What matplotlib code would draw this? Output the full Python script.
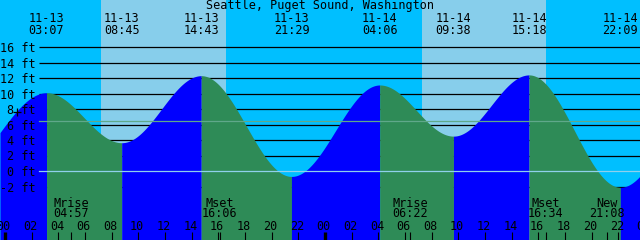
import matplotlib
matplotlib.use("Agg")
import matplotlib.pyplot as plt
import numpy as np

# ---------------- data ----------------
title = "Seattle, Puget Sound, Washington"
tide_dates = ["11-13", "11-13", "11-13", "11-13", "11-14", "11-14", "11-14", "11-14"]
tide_times = ["03:07", "08:45", "14:43", "21:29", "04:06", "09:38", "15:18", "22:09"]
tide_heights = [10.1, 3.65, 12.3, -0.7, 11.1, 4.5, 12.4, -2.1]
# estimated extrema just outside the visible window
outer_dates = ["11-12", "11-15"]
outer_times = ["20:00", "05:00"]
outer_heights = [-0.5, 11.0]

sunrise_dates = ["11-13", "11-14"]
sunrise_times = ["07:12", "07:15"]
sunset_dates = ["11-13", "11-14"]
sunset_times = ["16:35", "16:35"]

moon_names = ["Mrise", "Mset", "Mrise", "Mset", "New"]
moon_dates = ["11-13", "11-13", "11-14", "11-14", "11-14"]
moon_times = ["04:57", "16:06", "06:22", "16:34", "21:08"]

level_values = [16, 14, 12, 10, 8, 6, 4, 2, 0, -2]
level_labels = ["16 ft", "14 ft", "12 ft", "10 ft", "8 ft", "6 ft", "4 ft", "2 ft", "0 ft", "-2 ft"]
mean_level = 6.5
hour_values = [0, 2, 4, 6, 8, 10, 12, 14, 16, 18, 20, 22]
hour_labels = ["00", "02", "04", "06", "08", "10", "12", "14", "16", "18", "20", "22"]
day_starts = [0, 24, 48]

# ---------------- helpers ----------------
W, H = 640, 240
PX_PER_HR = 320 / 24.0
X0 = 5.0            # pixel of 11-13 00:00
PX_PER_FT = 7.75
Y0 = 171.0          # pixel of 0 ft


def hours(date, hm):
    day = int(date.split("-")[1]) - 13
    h, m = map(int, hm.split(":"))
    return day * 24 + h + m / 60.0


def tx(xpix):
    return (xpix - X0) / PX_PER_HR


def fy(ypix):
    return (Y0 - ypix) / PX_PER_FT


xmin, xmax = tx(0), tx(W)
ymin, ymax = fy(H), fy(0)

NIGHT = "#00BFFF"
DAY = "#87CEEB"
FLOOD = "#0000FF"
EBB = "#2E8B57"
FONT = "DejaVu Sans Mono"
FS = 8.5

fig = plt.figure(figsize=(6.4, 2.4), dpi=100)
ax = fig.add_axes([0, 0, 1, 1])
ax.set_xlim(xmin, xmax)
ax.set_ylim(ymin, ymax)
ax.axis("off")
fig.patch.set_facecolor(NIGHT)
ax.set_facecolor(NIGHT)
ax.add_patch(plt.Rectangle((xmin, ymin), xmax - xmin, ymax - ymin, color=NIGHT, zorder=0, lw=0))

# day shading
for d1, t1, d2, t2 in zip(sunrise_dates, sunrise_times, sunset_dates, sunset_times):
    ax.axvspan(hours(d1, t1), hours(d2, t2), color=DAY, lw=0, zorder=0.5)

# black level lines (behind the water)
lx0 = tx(39)
for v in level_values:
    if v != 0:
        ax.plot([lx0, xmax], [v, v], color="black", lw=0.9, zorder=1, solid_capstyle="butt")

# tide curve (cosine shape between extrema)
ext_t = [hours(outer_dates[0], outer_times[0])] + [hours(d, t) for d, t in zip(tide_dates, tide_times)] + \
        [hours(outer_dates[1], outer_times[1])]
ext_h = [outer_heights[0]] + tide_heights + [outer_heights[1]]
for i in range(len(ext_t) - 1):
    t0, t1 = ext_t[i], ext_t[i + 1]
    h0, h1 = ext_h[i], ext_h[i + 1]
    a, b = max(t0, xmin), min(t1, xmax)
    if a >= b:
        continue
    tt = np.linspace(a, b, 600)
    hh = h0 + (h1 - h0) * (1 - np.cos(np.pi * (tt - t0) / (t1 - t0))) / 2
    col = FLOOD if h1 > h0 else EBB
    ax.fill_between(tt, ymin, hh, color=col, lw=0, zorder=2, antialiased=False)

# datum and mean lines
ax.plot([lx0, xmax], [0, 0], color="#8FD0EC", lw=0.9, zorder=3)
ax.plot([lx0, xmax], [mean_level, mean_level], color="#5FA88A", lw=0.9, zorder=3)

# ---------- text ----------
xt = ax.get_xaxis_transform()


def ty(ypix):
    return 1 - ypix / H


ax.text(tx(320), ty(9.5), title, transform=xt, ha="center", va="baseline",
        family=FONT, fontsize=FS, zorder=5)

for d, t in zip(tide_dates, tide_times):
    x = hours(d, t)
    ax.text(x, ty(21.7), d, transform=xt, ha="center", va="baseline", family=FONT, fontsize=FS, zorder=5)
    ax.text(x, ty(34.3), t, transform=xt, ha="center", va="baseline", family=FONT, fontsize=FS, zorder=5)

for v, lab in zip(level_values, level_labels):
    ax.text(tx(35.5), v, lab, ha="right", va="center_baseline", family=FONT, fontsize=FS, zorder=5)

# odd '+' mark near the 8 ft label
ax.plot([tx(16.5)], [fy(112.3)], marker="+", color="black", ms=5.5, mew=0.9, zorder=5)

for name, d, t in zip(moon_names, moon_dates, moon_times):
    x = hours(d, t)
    ax.text(x, ty(206.7), name, transform=xt, ha="center", va="baseline", family=FONT, fontsize=FS, zorder=5)
    ax.text(x, ty(217.3), t, transform=xt, ha="center", va="baseline", family=FONT, fontsize=FS, zorder=5)
    ax.plot([x, x], [ty(232), 0], transform=xt, color="black", lw=0.8, zorder=5, solid_capstyle="butt")

for ds in day_starts:
    for hv, hl in zip(hour_values, hour_labels):
        x = ds + hv
        if x < xmin - 1 or x > xmax + 1:
            continue
        ax.text(x - 0.1, ty(230), hl, transform=xt, ha="center", va="baseline", family=FONT,
                fontsize=FS, zorder=5)
        ax.plot([x, x], [ty(232), 0], transform=xt, color="black",
                lw=(2.4 if hv == 0 else 0.8), zorder=5, solid_capstyle="butt")

fig.savefig("out.png", dpi=100, facecolor=NIGHT)
